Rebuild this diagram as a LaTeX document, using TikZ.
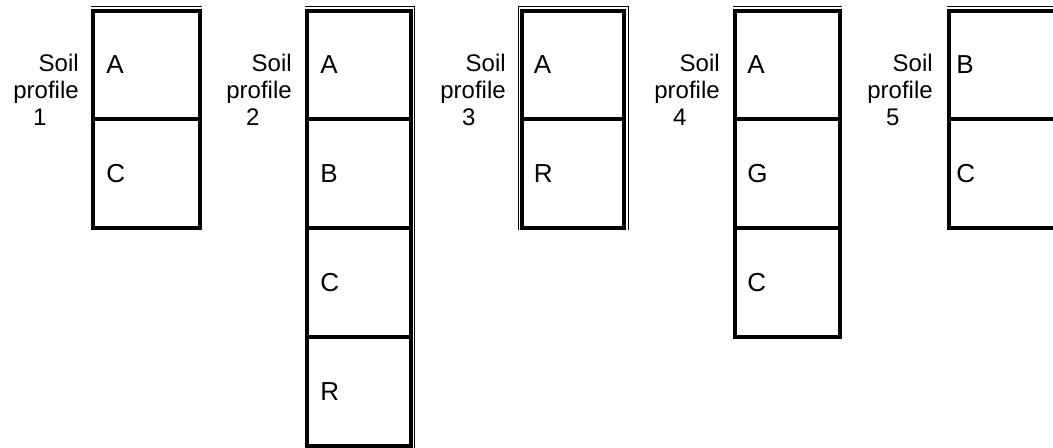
\documentclass[tikz,border=0pt]{standalone}
\usepackage{fontspec}
\setmainfont{Liberation Sans}
\usetikzlibrary{calc}
\tikzset{
  cell/.style={draw, line width=3pt, inner sep=0pt, outer sep=0pt,
               minimum height=81.75pt, minimum width=#1},
  topcell/.style={cell=#1, minimum height=81.375pt},
  hor/.style={anchor=west, inner sep=0pt, font=\fontsize{19.5}{20}\selectfont},
  plabel/.style={anchor=east, align=right, inner sep=0pt,
                 font=\fontsize{18}{20.25}\selectfont},
  thinline/.style={line width=0.75pt}
}
\begin{document}
\begin{tikzpicture}[x=0.75pt, y=-0.75pt]
\clip (0,0) rectangle (1053,447);
\fill[white] (0,0) rectangle (1053,447);

% Profile 1
\node[topcell=80.25pt] (p1a) at (146.5,64.75) {};
\node[cell=80.25pt] (p1b) at (146.5,173.5) {};
\draw[thinline] ($(p1a.north west)+(-2,-4)$) -- ($(p1a.north east)+(2,-4)$);
\node[hor] (t1a) at ($(p1a.west)+(13,0)$) {A};
\node[hor] (t1b) at ($(p1b.west)+(13,0)$) {C};
\node[plabel] (l1) at (79,90) {Soil\\profile\\\makebox[58.5pt]{1}};

% Profile 2
\node[topcell=77.625pt] (p2a) at (358.75,64.75) {};
\node[cell=77.625pt] (p2b) at (358.75,173.5) {};
\node[cell=77.625pt] (p2c) at (358.75,282.5) {};
\node[cell=77.625pt, minimum height=81.375pt] (p2d) at (358.75,391.25) {};
\draw[thinline] ($(p2a.north west)+(-2,-4)$) -- ($(p2a.north east)+(4,-4)$)
   -- ($(p2d.south east)+(4,2)$);
\node[hor] (t2a) at ($(p2a.west)+(13,0)$) {A};
\node[hor] (t2b) at ($(p2b.west)+(13,0)$) {B};
\node[hor] (t2c) at ($(p2c.west)+(13,0)$) {C};
\node[hor] (t2d) at ($(p2d.west)+(13,0)$) {R};
\node[plabel] (l2) at (292,90) {Soil\\profile\\\makebox[58.5pt]{2}};

% Profile 3
\node[topcell=76.875pt] (p3a) at (572.75,64.75) {};
\node[cell=76.875pt] (p3b) at (572.75,173.5) {};
\draw[thinline] ($(p3b.south west)+(-3.5,2)$) -- ($(p3a.north west)+(-3.5,-4)$)
   -- ($(p3a.north east)+(4,-4)$) -- ($(p3b.south east)+(4,2)$);
\node[hor] (t3a) at ($(p3a.west)+(12,0)$) {A};
\node[hor] (t3b) at ($(p3b.west)+(12,0)$) {R};
\node[plabel] (l3) at (506,90) {Soil\\profile\\\makebox[55.5pt]{3}};

% Profile 4
\node[topcell=78.75pt] (p4a) at (787.5,64.75) {};
\node[cell=78.75pt] (p4b) at (787.5,173.5) {};
\node[cell=78.75pt] (p4c) at (787.5,282.5) {};
\draw[thinline] ($(p4a.north west)+(-2,-4)$) -- ($(p4a.north east)+(2,-4)$);
\node[hor] (t4a) at ($(p4a.west)+(12,0)$) {A};
\node[hor] (t4b) at ($(p4b.west)+(12,0)$) {G};
\node[hor] (t4c) at ($(p4c.west)+(12,0)$) {C};
\node[plabel] (l4) at (720,90) {Soil\\profile\\\makebox[60pt]{4}};

% Profile 5
\node[topcell=82.5pt] (p5a) at (1004,64.75) {};
\node[cell=82.5pt] (p5b) at (1004,173.5) {};
\draw[thinline] ($(p5a.north west)+(-2,-4)$) -- ($(p5a.north east)+(2,-4)$);
\node[hor] (t5a) at ($(p5a.west)+(7,0)$) {B};
\node[hor] (t5b) at ($(p5b.west)+(7,0)$) {C};
\node[plabel] (l5) at (933,90) {Soil\\profile\\\makebox[60pt]{5}};
\end{tikzpicture}
\end{document}
